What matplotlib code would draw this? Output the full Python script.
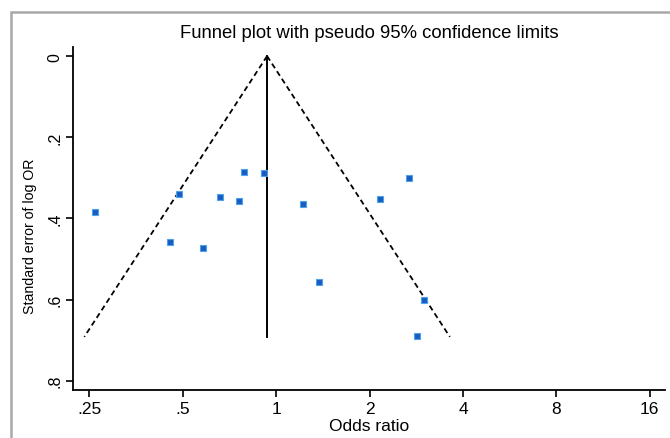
import numpy as np
import matplotlib.pyplot as plt
from matplotlib.patches import Rectangle

# study estimates
odds_ratio = [0.261, 0.455, 0.487, 0.583, 0.660, 0.760, 0.785, 0.917,
              1.224, 1.376, 2.162, 2.680, 3.002, 2.838]
se_log_or = [0.385, 0.459, 0.340, 0.473, 0.348, 0.356, 0.285, 0.288,
             0.364, 0.558, 0.352, 0.300, 0.601, 0.691]
pooled_or = 0.935
se_max = 0.692

xticks = [0.25, 0.5, 1, 2, 4, 8, 16]
xticklabels = [".25", ".5", "1", "2", "4", "8", "16"]
yticks = [0, 0.2, 0.4, 0.6, 0.8]
yticklabels = ["0", ".2", ".4", ".6", ".8"]

plt.rcParams['font.family'] = ['Liberation Sans', 'DejaVu Sans']

fig = plt.figure(figsize=(6.7, 4.39), dpi=100)
ax = fig.add_axes([0.1094, 0.1093, 0.883, 0.781])

# gray outer frame (clipped by image edges on right and bottom)
fig.patches.append(Rectangle((11 / 670, -0.1), 1.2, 1 - 13 / 439 + 0.1,
                             transform=fig.transFigure, fill=False,
                             edgecolor='#a8a8a8', linewidth=1.8))

# pseudo 95% confidence limits
se = np.array([0, se_max])
lo = np.exp(np.log(pooled_or) - 1.96 * se)
hi = np.exp(np.log(pooled_or) + 1.96 * se)
ax.plot(lo, se, color='black', linestyle=(0, (3, 2)), linewidth=1.3)
ax.plot(hi, se, color='black', linestyle=(0, (3, 2)), linewidth=1.3)
ax.plot([pooled_or, pooled_or], [0, se_max], color='black', linewidth=1.4)

ax.plot(odds_ratio, se_log_or, linestyle='none', marker='s', markersize=4.8,
        markerfacecolor='#1a5cc0', markeredgecolor='#4da3ea', markeredgewidth=0.8)

ax.set_xscale('log', base=2)
ax.set_xlim(0.222, 17.9)
ax.set_ylim(0.823, -0.022)
ax.set_xticks(xticks)
ax.set_xticklabels(xticklabels, fontsize=12.5)
ax.minorticks_off()
ax.set_yticks(yticks)
ax.set_yticklabels(yticklabels, rotation=90, va='center', fontsize=11.5)

for s in ['top', 'right']:
    ax.spines[s].set_visible(False)
for s in ['left', 'bottom']:
    ax.spines[s].set_linewidth(1.3)
ax.tick_params(direction='out', length=5, width=1.2, pad=3)

ax.set_xlabel("Odds ratio", fontsize=12.5, labelpad=1)
ax.set_ylabel("Standard error of log OR", fontsize=10.2)
ax.yaxis.set_label_coords(-0.062, 0.45)
ax.set_title("Funnel plot with pseudo 95% confidence limits", fontsize=13.3, pad=7)

fig.savefig("out.png", dpi=100)
